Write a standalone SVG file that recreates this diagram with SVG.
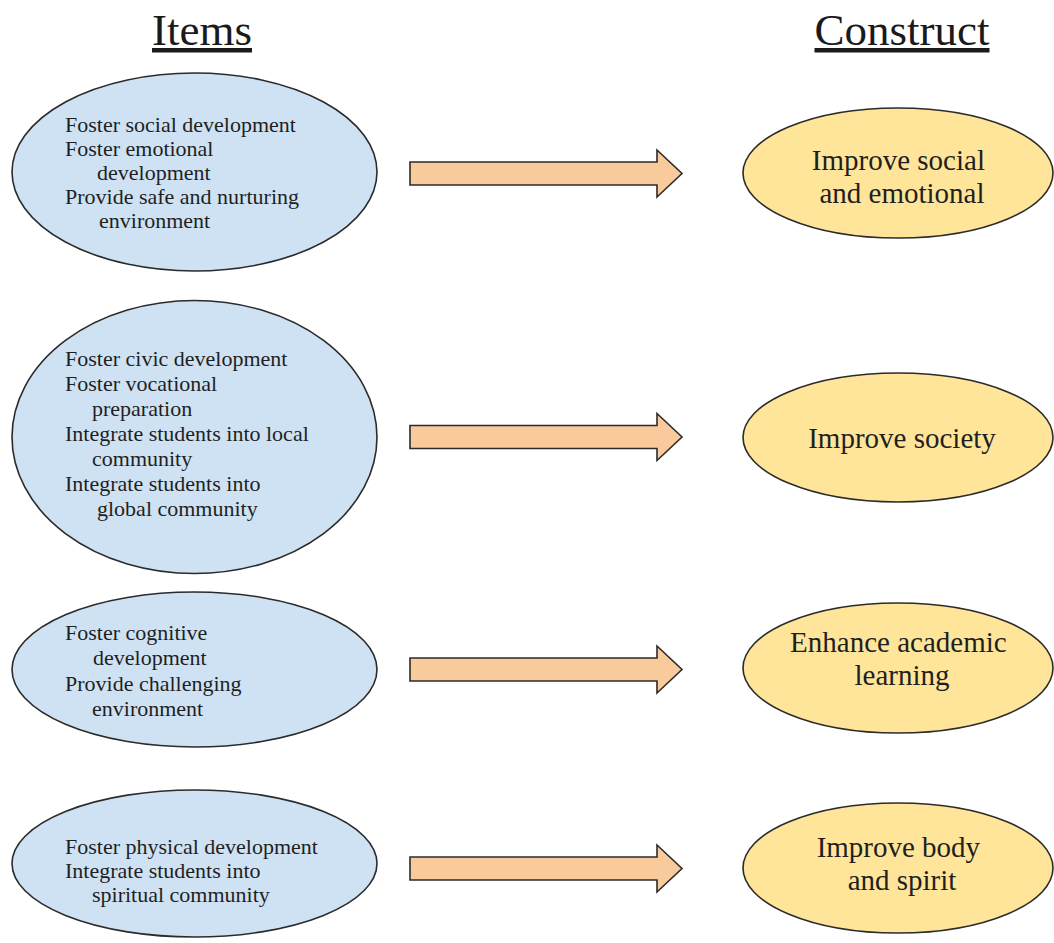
<svg xmlns="http://www.w3.org/2000/svg" width="1054" height="943" viewBox="0 0 1054 943">
  <style>
    .title { font-family: "Liberation Serif", "Times New Roman", serif; font-size: 45px; fill: #1a1a1a; text-decoration: underline; }
    .item { fill: #cfe2f3; stroke: #2b2b2b; stroke-width: 1.6; }
    .construct { fill: #ffe599; stroke: #2b2b2b; stroke-width: 1.6; }
    .itext { font-family: "Liberation Serif", "Times New Roman", serif; font-size: 22px; fill: #1f1f1f; }
    .ctext { font-family: "Liberation Serif", "Times New Roman", serif; font-size: 29px; fill: #1f1f1f; text-anchor: middle; }
    .arrow { fill: #f9cb9c; stroke: #2b2b2b; stroke-width: 1.6; stroke-linejoin: miter; }
  </style>
  <defs>
    <!-- block arrow shape, drawn around its centre line at y=0 -->
    <path id="blockArrow" d="M410,-11.5 H657 V-23.5 L682,0 L657,23.5 V11.5 H410 Z"/>
  </defs>

  <rect width="1054" height="943" fill="#ffffff"/>

  <!-- column headings -->
  <g id="headings">
    <text class="title" x="202" y="45" text-anchor="middle">Items</text>
    <text class="title" x="902" y="45" text-anchor="middle">Construct</text>
  </g>

  <!-- item ellipses -->
  <g id="item-social">
    <ellipse class="item" cx="194.5" cy="172" rx="182.5" ry="99"/>
    <text class="itext">
      <tspan x="65" y="132">Foster social development</tspan>
      <tspan x="65" y="156">Foster emotional</tspan>
      <tspan x="97" y="180">development</tspan>
      <tspan x="65" y="204">Provide safe and nurturing</tspan>
      <tspan x="99" y="228">environment</tspan>
    </text>
  </g>

  <g id="item-society">
    <ellipse class="item" cx="194.5" cy="437" rx="182.5" ry="136.5"/>
    <text class="itext">
      <tspan x="65" y="366">Foster civic development</tspan>
      <tspan x="65" y="391">Foster vocational</tspan>
      <tspan x="92" y="416">preparation</tspan>
      <tspan x="65" y="441">Integrate students into local</tspan>
      <tspan x="92" y="466">community</tspan>
      <tspan x="65" y="491">Integrate students into</tspan>
      <tspan x="97" y="516">global community</tspan>
    </text>
  </g>

  <g id="item-academic">
    <ellipse class="item" cx="194.5" cy="669.5" rx="182.5" ry="77.5"/>
    <text class="itext">
      <tspan x="65" y="640">Foster cognitive</tspan>
      <tspan x="93" y="665">development</tspan>
      <tspan x="65" y="690.5">Provide challenging</tspan>
      <tspan x="92" y="716">environment</tspan>
    </text>
  </g>

  <g id="item-body">
    <ellipse class="item" cx="194.5" cy="863.5" rx="182.5" ry="73.5"/>
    <text class="itext">
      <tspan x="65" y="854">Foster physical development</tspan>
      <tspan x="65" y="878">Integrate students into</tspan>
      <tspan x="92" y="902">spiritual community</tspan>
    </text>
  </g>

  <!-- construct ellipses -->
  <g id="construct-social">
    <ellipse class="construct" cx="898" cy="173" rx="155" ry="65"/>
    <text class="ctext">
      <tspan x="902" y="170">Improve social</tspan>
      <tspan x="902" y="203">and emotional</tspan>
    </text>
  </g>

  <g id="construct-society">
    <ellipse class="construct" cx="898" cy="437.5" rx="155" ry="64.5"/>
    <text class="ctext" x="902" y="448">Improve society</text>
  </g>

  <g id="construct-academic">
    <ellipse class="construct" cx="898" cy="668" rx="155" ry="65"/>
    <text class="ctext">
      <tspan x="902" y="652">Enhance academic</tspan>
      <tspan x="902" y="685">learning</tspan>
    </text>
  </g>

  <g id="construct-body">
    <ellipse class="construct" cx="898" cy="868" rx="155" ry="65"/>
    <text class="ctext">
      <tspan x="902" y="857">Improve body</tspan>
      <tspan x="902" y="890">and spirit</tspan>
    </text>
  </g>

  <!-- connectors -->
  <g id="connectors">
    <use href="#blockArrow" class="arrow" transform="translate(0,173.5)"/>
    <use href="#blockArrow" class="arrow" transform="translate(0,437)"/>
    <use href="#blockArrow" class="arrow" transform="translate(0,669.5)"/>
    <use href="#blockArrow" class="arrow" transform="translate(0,868.5)"/>
  </g>
</svg>
